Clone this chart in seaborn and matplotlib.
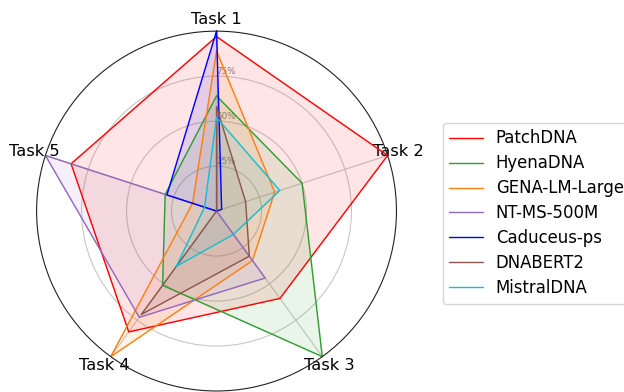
import numpy as np
import matplotlib
matplotlib.use("Agg")
import matplotlib.pyplot as plt
import seaborn as sns
import pandas as pd

sns.set_style("white")
plt.rcParams['font.family'] = ['DejaVu Sans']
plt.rcParams['text.color'] = 'black'
plt.rcParams['xtick.color'] = 'black'
plt.rcParams['ytick.color'] = 'black'

tasks = ["Task 1", "Task 2", "Task 3", "Task 4", "Task 5"]
models = ["PatchDNA", "HyenaDNA", "GENA-LM-Large", "NT-MS-500M",
          "Caduceus-ps", "DNABERT2", "MistralDNA"]

# normalised scores per task (min-max across models)
patchdna = [0.97, 1.00, 0.60, 0.83, 0.85]
hyenadna = [0.64, 0.50, 1.00, 0.51, 0.30]
gena_lm = [0.89, 0.34, 0.34, 1.00, 0.14]
nt_ms = [0.00, 0.00, 0.46, 0.73, 1.00]
caduceus = [1.00, 0.03, 0.00, 0.00, 0.29]
dnabert2 = [0.58, 0.17, 0.31, 0.71, 0.00]
mistraldna = [0.52, 0.37, 0.16, 0.38, 0.07]

scores = [patchdna, hyenadna, gena_lm, nt_ms, caduceus, dnabert2, mistraldna]
colors = ["red", "#2ca02c", "#ff7f0e", "#9467bd", "blue", "#8c564b", "#17becf"]

r_ticks = [0.25, 0.50, 0.75]
r_tick_labels = ["25%", "50%", "75%"]

angles = np.linspace(0, 2 * np.pi, len(tasks), endpoint=False)
closed_angles = np.concatenate([angles, angles[:1]])

fig = plt.figure(figsize=(6.24, 3.92), dpi=100)
ax = fig.add_axes([0.0585, 0.00255, 0.577, 0.918], projection="polar")
ax.set_theta_offset(np.pi / 2)
ax.set_theta_direction(-1)

for name, vals, col in zip(models, scores, colors):
    closed_vals = list(vals) + [vals[0]]
    df = pd.DataFrame({"theta": closed_angles, "r": closed_vals})
    sns.lineplot(data=df, x="theta", y="r", ax=ax, color=col, linewidth=1,
                 sort=False, estimator=None, label=name, legend=False,
                 clip_on=False)
    ax.fill(closed_angles, closed_vals, color=col, alpha=0.1, clip_on=False)

ax.set_ylim(0, 1)
ax.set_xticks(angles)
ax.set_xticklabels(tasks, fontsize=11.7)
ax.tick_params(axis="x", pad=-2.3)
ax.set_yticks(r_ticks)
ax.set_yticklabels(r_tick_labels, fontsize=6.3, color="grey")
ax.set_rlabel_position(0)
ax.set_xlabel("")
ax.set_ylabel("")
ax.grid(True, color="#c8c8c8", linewidth=0.8)
ax.spines["polar"].set_color("#222222")
ax.spines["polar"].set_linewidth(0.8)

ax.legend(loc="center left", bbox_to_anchor=(0.6965, 0.456),
          bbox_transform=fig.transFigure, fontsize=11.9, frameon=True,
          labelspacing=0.42)

fig.savefig("out.png", dpi=100)
